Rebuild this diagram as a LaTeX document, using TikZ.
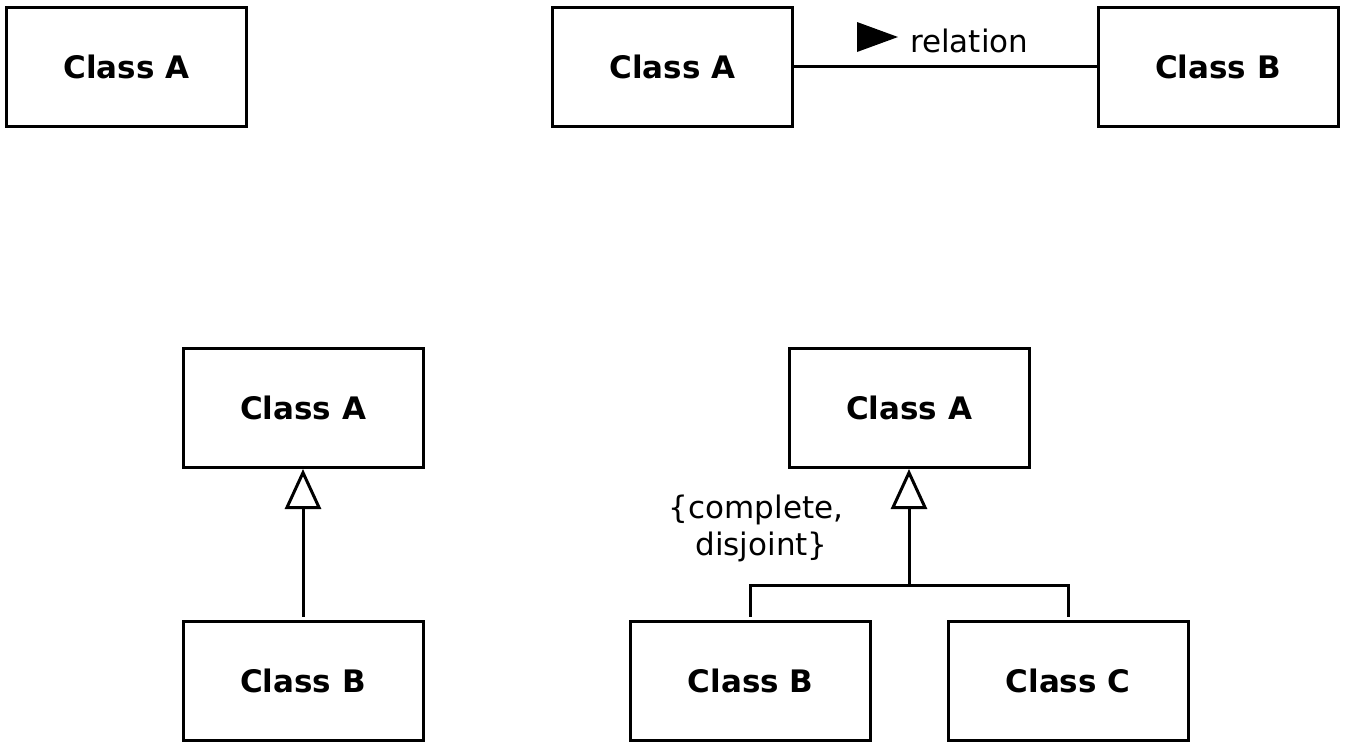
\documentclass[tikz,border=0pt]{standalone}
\usepackage{fontspec}
\setmainfont{DejaVu Sans}
\usetikzlibrary{arrows.meta}
\begin{document}
\begin{tikzpicture}[x=1pt,y=-1pt,
  cls/.style={draw,line width=3pt,minimum width=240pt,minimum height=119pt,inner sep=0pt,font=\fontsize{31}{37}\selectfont\bfseries},
  conn/.style={line width=3pt},
  gen/.style={line width=3pt,-{Triangle[open,width=36pt,length=40pt,line width=3pt]},shorten <=3pt},
  lbl/.style={font=\fontsize{31}{37}\selectfont,inner sep=0pt,align=center}]
\useasboundingbox (0,0) rectangle (1350,753);
% top row
\node[cls] (a1) at (126.5,66.5) {Class A};
\node[cls] (a2) at (672.5,66.5) {Class A};
\node[cls] (b2) at (1218,66.5) {Class B};
\draw[conn] (a2.east) -- (b2.west);
\node[lbl,anchor=base west] (rel) at (910,52) {relation};
\fill (rel.base west) ++(-53,-30) -- ++(41,15) -- ++(-41,15) -- cycle;
% bottom left
\node[cls] (a3) at (303,408) {Class A};
\node[cls] (b3) at (303,680.5) {Class B};
\draw[gen] (b3.north) -- (a3.south);
% bottom right
\node[cls] (a4) at (909,408) {Class A};
\node[cls] (b4) at (750.5,680.5) {Class B};
\node[cls] (c4) at (1068,680.5) {Class C};
\coordinate (j) at (909,585);
\draw[conn,shorten <=3pt,shorten >=3pt] (b4.north) |- (j) -| (c4.north);
\draw[gen,shorten <=0pt] (j) -- (a4.south);
\node[lbl] (cd) at (756,528) {\{complete,\\\hspace*{0.35em}disjoint\}};
\end{tikzpicture}
\end{document}
